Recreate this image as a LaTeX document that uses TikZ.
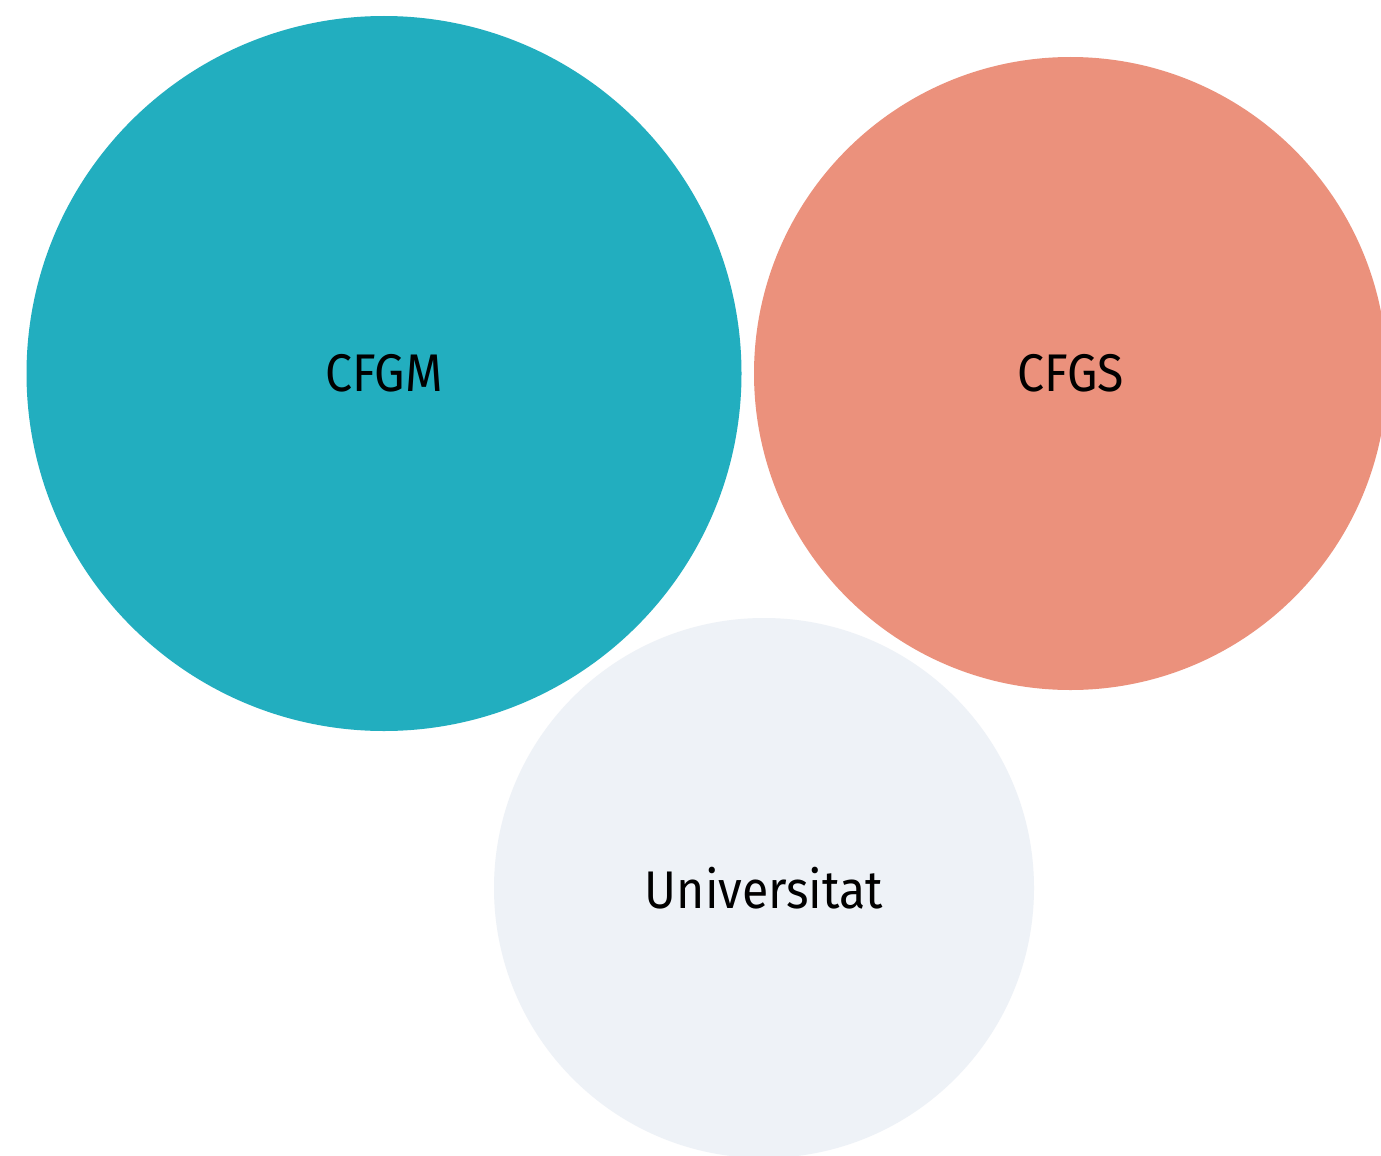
\documentclass[tikz,border=0pt]{standalone}
\usepackage{fontspec}
\setmainfont[FakeStretch=0.91]{Fira Sans}
\definecolor{cteal}{HTML}{22AEBF}
\definecolor{csalmon}{HTML}{EB917C}
\definecolor{clight}{HTML}{EEF2F7}
\begin{document}
\begin{tikzpicture}[x=1pt,y=-1pt,
  bubble/.style={circle,inner sep=0pt,draw=none},
  lbl/.style={font=\fontsize{53}{60}\selectfont,text=black}]
\useasboundingbox (0,0) rectangle (1381,1156);
\clip (0,0) rectangle (1381,1156);
\fill[white] (0,0) rectangle (1381,1156);
\node[bubble,fill=cteal,minimum size=715pt] (cfgm) at (384,373.5) {};
\node[bubble,fill=csalmon,minimum size=633pt] (cfgs) at (1070.5,373.5) {};
\node[bubble,fill=clight,minimum size=540pt] (univ) at (764,888) {};
\node[lbl] (tcfgm) at (cfgm.center) {CFGM};
\node[lbl] (tcfgs) at (cfgs.center) {CFGS};
\node[lbl] (tuniv) at (univ.center) {Universitat};
\end{tikzpicture}
\end{document}
